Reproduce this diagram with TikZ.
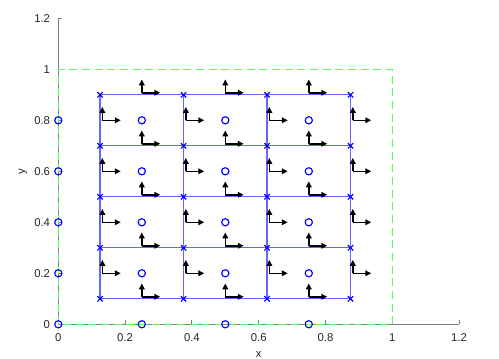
\documentclass[tikz,border=0pt]{standalone}
\usepackage{fontspec}
\setmainfont{Liberation Sans}
\usetikzlibrary{arrows.meta}

\begin{document}
\begin{tikzpicture}[x=250.5pt, y=191.25pt,
  font=\fontsize{8.5}{10}\selectfont,
  axisline/.style={gray, line width=0.7pt},
  ticklabel/.style={text=black!85, inner sep=0pt},
  cellline/.style={blue!60, line width=0.9pt},
  domainline/.style={green!65, line width=0.9pt, dash pattern=on 6pt off 3.5pt},
  vecarrow/.style={-{Triangle[length=4.4pt,width=4.2pt]}, line width=1.1pt},
  ptmark/.style={blue, line width=0.85pt}]
\useasboundingbox (-0.1746,-0.1361) rectangle (1.3195,1.2718);

% axes, ticks and labels
\draw[axisline] (0,1.2) -- (0,0) -- (1.2,0);
\foreach \t in {0,0.2,0.4,0.6,0.8,1,1.2} {
  \draw[axisline] (\t,0) -- ++(0,3pt);
  \draw[axisline] (0,\t) -- ++(3pt,0);
  \path (\t,0) ++(0,-10pt) node[ticklabel] {\t};
  \path (0,\t) ++(-6pt,0) node[ticklabel, anchor=east] {\t};
}
\path (0.6,0) ++(0,-22.5pt) node[ticklabel] {x};
\path (0,0.6) ++(-26.5pt,0) node[ticklabel, rotate=90] {y};

% domain
\draw[domainline] (0,0) rectangle (1,1);

% cells
\foreach \gx in {0.125,0.375,0.625,0.875}
  \draw[cellline] (\gx,0.1) -- (\gx,0.9);
\foreach \gy in {0.1,0.3,0.5,0.7,0.9}
  \draw[cellline] (0.125,\gy) -- (0.875,\gy);

% vectors on vertical edges
\foreach \ex in {0.125,0.375,0.625,0.875}
  \foreach \ey in {0.2,0.4,0.6,0.8} {
    \draw[vecarrow] (\ex,\ey) ++(1.7pt,0) -- ++(0,10pt);
    \draw[vecarrow] (\ex,\ey) ++(1.7pt,0) -- ++(13.8pt,0);
  }
% vectors on horizontal edges
\foreach \ex in {0.25,0.5,0.75}
  \foreach \ey in {0.1,0.3,0.5,0.7,0.9} {
    \draw[vecarrow] (\ex,\ey) ++(0,1.5pt) -- ++(0,10pt);
    \draw[vecarrow] (\ex,\ey) ++(0,1.5pt) -- ++(13.8pt,0);
  }

% corner marks
\foreach \gx in {0.125,0.375,0.625,0.875}
  \foreach \gy in {0.1,0.3,0.5,0.7,0.9}
    \draw[ptmark] (\gx,\gy) ++(-2pt,-2pt) -- ++(4pt,4pt) ++(-4pt,0) -- ++(4pt,-4pt);

% circles
\foreach \cx in {0.25,0.5,0.75}
  \foreach \cy in {0,0.2,0.4,0.6,0.8}
    \draw[ptmark] (\cx,\cy) circle[radius=2.7pt];
\foreach \cy in {0,0.2,0.4,0.6,0.8}
  \draw[ptmark] (0,\cy) circle[radius=2.7pt];
\end{tikzpicture}
\end{document}
